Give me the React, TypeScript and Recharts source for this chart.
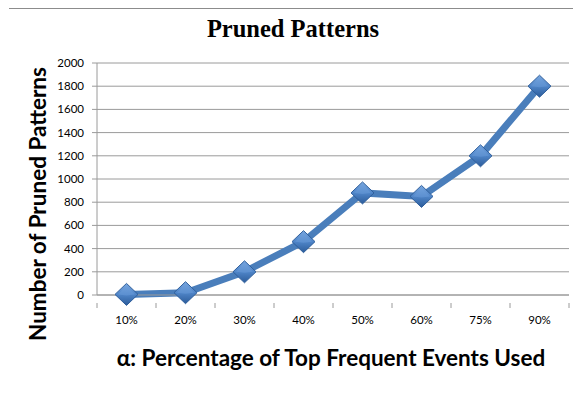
import React from "react";
import { LineChart, Line, XAxis, YAxis, CartesianGrid } from "recharts";

const categories = ["10%", "20%", "30%", "40%", "50%", "60%", "75%", "90%"];
const prunedPatterns = [5, 20, 200, 460, 880, 850, 1200, 1800];
const yTicks = [0, 200, 400, 600, 800, 1000, 1200, 1400, 1600, 1800, 2000];

const data = categories.map((c, i) => ({ cat: c, pos: i + 0.5, value: prunedPatterns[i] }));
const xTicks: number[] = [];
for (let i = 0; i <= categories.length; i++) {
  xTicks.push(i);
  if (i < categories.length) xTicks.push(i + 0.5);
}

const FONT = "Lato, 'Open Sans', sans-serif";

const XTick = (props: any) => {
  const { x, y, payload } = props;
  const v = payload.value as number;
  if (Number.isInteger(v)) {
    return <line x1={x} y1={y} x2={x} y2={y + 5} stroke="#9a9a9a" strokeWidth={1} />;
  }
  return (
    <text x={x} y={y + 21} textAnchor="middle" fontFamily={FONT} fontSize={11.5} fill="#000">
      {categories[Math.floor(v)]}
    </text>
  );
};

const Diamond = (props: any) => {
  const { cx, cy, index } = props;
  if (cx == null || cy == null) return null;
  const w = 11.5, h = 11;
  return (
    <g key={`d-${index}`}>
      <polygon
        points={`${cx},${cy - h} ${cx + w},${cy} ${cx},${cy + h} ${cx - w},${cy}`}
        fill="url(#diamondGrad)"
        stroke="#2f5f9c"
        strokeWidth={1}
      />
      <polygon
        points={`${cx},${cy - h + 2} ${cx + w - 3},${cy} ${cx},${cy + 1} ${cx - w + 3},${cy}`}
        fill="#6f9fdc"
        opacity={0.45}
      />
    </g>
  );
};

export default function App() {
  return (
    <div style={{ position: "absolute", left: 0, top: 0, width: 573, height: 403, background: "#fff" }}>
      <div style={{ position: "absolute", left: 9, top: 8, width: 564, height: 0, borderTop: "1.5px solid #8c8c8c" }} />
      <div
        style={{
          position: "absolute", left: 0, top: 15, width: 586, textAlign: "center",
          fontFamily: "'Liberation Serif', 'Times New Roman', serif", fontWeight: "bold", fontSize: 24.5, color: "#000",
        }}
      >
        Pruned Patterns
      </div>
      <div
        style={{
          position: "absolute", left: 37, top: 204, transform: "translate(-50%, -50%) rotate(-90deg)",
          whiteSpace: "nowrap", fontFamily: FONT, fontWeight: "bold", fontSize: 22.5, color: "#000",
        }}
      >
        Number of Pruned Patterns
      </div>
      <div
        style={{
          position: "absolute", left: 331, top: 357, transform: "translate(-50%, -50%)",
          whiteSpace: "nowrap", fontFamily: FONT, fontWeight: "bold", fontSize: 22.5, color: "#000",
        }}
      >
        α: Percentage of Top Frequent Events Used
      </div>
      <LineChart
        width={573}
        height={403}
        data={data}
        margin={{ top: 63, right: 4, bottom: 78, left: 57 }}
        style={{ position: "absolute", left: 0, top: 0 }}
      >
        <defs>
          <linearGradient id="diamondGrad" x1="0" y1="0" x2="0" y2="1">
            <stop offset="0%" stopColor="#7aa8e0" />
            <stop offset="50%" stopColor="#4f85c8" />
            <stop offset="100%" stopColor="#2c5c9a" />
          </linearGradient>
        </defs>
        <CartesianGrid vertical={false} stroke="#9a9a9a" strokeWidth={1} />
        <XAxis
          dataKey="pos"
          type="number"
          domain={[0, categories.length]}
          ticks={xTicks}
          interval={0}
          height={30}
          axisLine={{ stroke: "#9a9a9a" }}
          tickLine={false}
          tick={<XTick />}
        />
        <YAxis
          domain={[0, 2000]}
          ticks={yTicks}
          interval={0}
          width={40}
          axisLine={{ stroke: "#9a9a9a" }}
          tickLine={{ stroke: "#9a9a9a" }}
          tickSize={5}
          tickMargin={8}
          tick={{ fontFamily: FONT, fontSize: 11.5, fill: "#000" }}
        />
        <Line
          dataKey="value"
          stroke="#4a7ebb"
          strokeWidth={7}
          dot={<Diamond />}
          activeDot={false}
          isAnimationActive={false}
        />
      </LineChart>
    </div>
  );
}
